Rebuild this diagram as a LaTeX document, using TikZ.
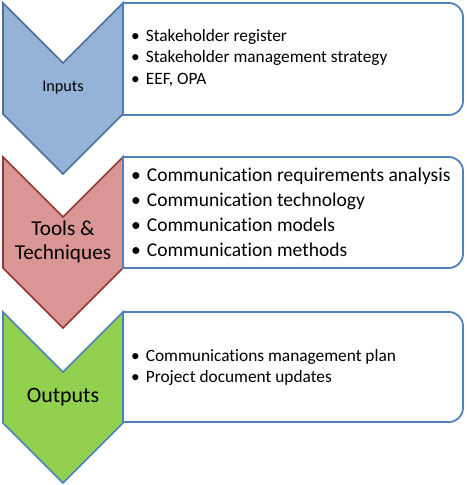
\documentclass[tikz,border=0pt]{standalone}
\usepackage{fontspec}
\setmainfont{Carlito}[Ligatures=NoCommon]
\definecolor{inFill}{HTML}{95B3D7}
\definecolor{inLine}{HTML}{4A6FA0}
\definecolor{ttFill}{HTML}{DA9694}
\definecolor{ttLine}{HTML}{953735}
\definecolor{outFill}{HTML}{92D050}
\definecolor{outLine}{HTML}{4F81BD}
\definecolor{boxLine}{HTML}{4F81BD}
\tikzset{
  chev/.style={line width=1.6bp, line join=miter},
  infobox/.style={line width=1.8bp, draw=boxLine, fill=white},
  lbl/.style={align=center, inner sep=0pt, text=black},
  items/.style={anchor=west, align=left, inner sep=0pt, text=black},
}
\newcommand{\chevpath}[1]{(3,#1) -- (63,#1+60) -- (123,#1) -- (123,#1+111) -- (63,#1+171) -- (3,#1+111) -- cycle}
\newcommand{\boxpath}[2]{(123,#1) -- (449,#1) .. controls (456.7,#1) and (463,#1+6.3) .. (463,#1+14) -- (463,#2-14) .. controls (463,#2-6.3) and (456.7,#2) .. (449,#2) -- (123,#2) -- cycle}
\begin{document}
\begin{tikzpicture}[x=1bp,y=-1bp]
\useasboundingbox (0,0) rectangle (467,485);
% chevrons
\draw[chev, fill=inFill, draw=inLine] \chevpath{3};
\draw[chev, fill=ttFill, draw=ttLine] \chevpath{157};
\draw[chev, fill=outFill, draw=outLine] \chevpath{312};
% boxes
\draw[infobox] \boxpath{3}{115};
\draw[infobox] \boxpath{157}{268};
\draw[infobox] \boxpath{312}{422};
% labels
\node[lbl, font=\fontsize{16.3}{19}\selectfont] (inputs) at (63,88) {Inputs};
\node[lbl, font=\fontsize{21.3}{24.5}\selectfont] (tools) at (63,242) {Tools \&\\Techniques};
\node[lbl, font=\fontsize{22}{26}\selectfont] (outputs) at (63,397) {Outputs};
% items
\node[items, font=\fontsize{17.4}{21.5}\selectfont] (initems) at (131,58)
  {\textbullet\hspace{6bp}Stakeholder register\\
   \textbullet\hspace{6bp}Stakeholder management strategy\\
   \textbullet\hspace{6bp}EEF, OPA};
\node[items, font=\fontsize{19.6}{25}\selectfont] (ttitems) at (131,212.5)
  {\textbullet\hspace{6bp}Communication requirements analysis\\
   \textbullet\hspace{6bp}Communication technology\\
   \textbullet\hspace{6bp}Communication models\\
   \textbullet\hspace{6bp}Communication methods};
\node[items, font=\fontsize{17.4}{21}\selectfont] (outitems) at (131,367.5)
  {\textbullet\hspace{6bp}Communications management plan\\
   \textbullet\hspace{6bp}Project document updates};
\end{tikzpicture}
\end{document}
